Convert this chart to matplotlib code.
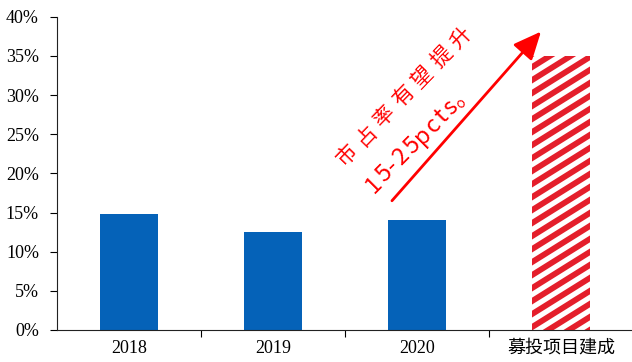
import numpy as np
import matplotlib
matplotlib.use('Agg')
import matplotlib.pyplot as plt
from matplotlib.lines import Line2D
from matplotlib.transforms import IdentityTransform
from matplotlib import font_manager, ft2font

plt.rcParams['font.family'] = ['Liberation Serif', 'Noto Sans CJK SC', 'DejaVu Sans']

# 市占率数据（%）
categories = ['2018', '2019', '2020', '募投项目建成']
share = [14.8, 12.5, 14.0, 35.0]
yticks = [0, 5, 10, 15, 20, 25, 30, 35, 40]
note_line1 = '市占率有望提升'
note_line2 = '15-25pcts。'

blue = '#0562B8'
stripe_red = '#E41E2B'

fig = plt.figure(figsize=(6.32, 3.62), dpi=100)
ax = fig.add_axes([0.0902, 0.0884, 0.9114, 0.8655])

x = np.arange(len(categories))
ax.bar(x[:3], share[:3], width=0.4, color=blue, linewidth=0)
proj = ax.bar(x[3], share[3], width=0.4, color='white', linewidth=0)[0]

ax.set_xlim(-0.5, 3.5)
ax.set_ylim(0, 40)

# 斜条纹填充最后一根柱子
(px0, py0) = ax.transData.transform((x[3] - 0.2, 0))
(px1, py1) = ax.transData.transform((x[3] + 0.2, share[3]))
w = px1 - px0
slope = np.tan(np.radians(32))
gap = 13.0
b = py0 - w * slope - gap
while b < py1 + gap:
    ln = Line2D([px0 - 2, px1 + 2], [b - 2 * slope, b + (w + 2) * slope],
                transform=IdentityTransform(), color=stripe_red, lw=4.2,
                solid_capstyle='butt')
    ax.add_artist(ln)
    ln.set_clip_path(proj)
    b += gap

ax.set_yticks(yticks)
ax.set_yticklabels([f'{v}%' for v in yticks])
ax.set_xticks(x)
ax.set_xticklabels(categories)
ax.set_xticks([0.5, 1.5, 2.5], minor=True)
ax.tick_params(axis='x', which='major', length=0, pad=7, labelsize=13)
ax.tick_params(axis='x', which='minor', length=5, width=0.8, direction='out')
ax.tick_params(axis='y', length=5, width=0.8, direction='out', pad=8, labelsize=13)

for s in ['top', 'right']:
    ax.spines[s].set_visible(False)
for s in ['left', 'bottom']:
    ax.spines[s].set_linewidth(0.8)
    ax.spines[s].set_color('#222222')

# 上升箭头
ax.annotate('', xy=(2.861, 38.1), xytext=(1.826, 16.5),
            arrowprops=dict(arrowstyle='-|>,head_length=0.85,head_width=0.38',
                            mutation_scale=20, color='red', lw=2,
                            shrinkA=0, shrinkB=0),
            annotation_clip=False)

# 第一行：全角字，等距排布
ang1 = 46
c1, s1 = np.cos(np.radians(ang1)), np.sin(np.radians(ang1))
for i, ch in enumerate(note_line1):
    ax.annotate(ch, xy=(1.514, 22.35), xytext=(i * 27.2 * c1, i * 27.2 * s1),
                textcoords='offset pixels', rotation=ang1, ha='center', va='center',
                color='red', fontsize=15, family=['Noto Sans CJK SC'],
                fontweight='light', annotation_clip=False)

# 第二行：按字宽排布，外加字距
fs2 = 17
track = 1.6
font = ft2font.FT2Font(font_manager.findfont('Noto Sans CJK SC'))
font.set_size(fs2, 100)
adv = [font.load_char(ord(ch)).linearHoriAdvance / 65536 for ch in note_line2]
ang2 = 45
c2, s2 = np.cos(np.radians(ang2)), np.sin(np.radians(ang2))
pos = 0.0
for i, ch in enumerate(note_line2):
    if i > 0:
        pos += adv[i - 1] / 2 + track + adv[i] / 2
    ax.annotate(ch, xy=(1.70, 18.6), xytext=(pos * c2, pos * s2),
                textcoords='offset pixels', rotation=ang2, ha='center', va='center',
                color='red', fontsize=fs2, family=['Noto Sans CJK SC'],
                annotation_clip=False)

fig.savefig('out.png', dpi=100)
